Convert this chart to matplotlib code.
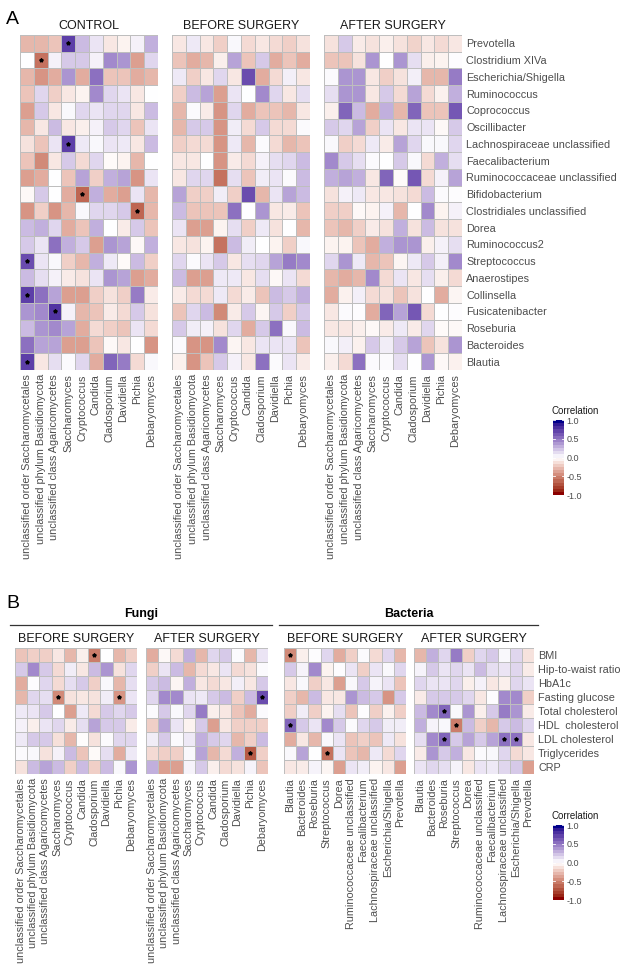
import numpy as np
import matplotlib
matplotlib.use("Agg")
import matplotlib.pyplot as plt
from matplotlib.colors import ListedColormap

plt.rcParams['font.family'] = ['Liberation Sans', 'DejaVu Sans']

# ---------------- data ----------------
bacteria_rows = ["Prevotella", "Clostridium XIVa", "Escherichia/Shigella", "Ruminococcus",
                 "Coprococcus", "Oscillibacter", "Lachnospiraceae unclassified",
                 "Faecalibacterium", "Ruminococcaceae unclassified", "Bifidobacterium",
                 "Clostridiales unclassified", "Dorea", "Ruminococcus2", "Streptococcus",
                 "Anaerostipes", "Collinsella", "Fusicatenibacter", "Roseburia",
                 "Bacteroides", "Blautia"]
fungi_cols = ["unclassified order Saccharomycetales", "unclassified phylum Basidiomycota",
              "unclassified class Agaricomycetes", "Saccharomyces", "Cryptococcus",
              "Candida", "Cladosporium", "Davidiella", "Pichia", "Debaryomyces"]
clinical_rows = ["BMI", "Hip-to-waist ratio", "HbA1c", "Fasting glucose", "Total cholesterol",
                 "HDL  cholesterol", "LDL cholesterol", "Triglycerides", "CRP"]
bacteria_cols = ["Blautia", "Bacteroides", "Roseburia", "Streptococcus", "Dorea",
                 "Ruminococcaceae unclassified", "Faecalibacterium",
                 "Lachnospiraceae unclassified", "Escherichia/Shigella", "Prevotella"]

control_vals = [
    [-0.3, -0.3, -0.25, 0.75, 0.25, 0.1, -0.1, -0.05, 0.05, 0.3],
    [0.0, -0.6, 0.05, 0.2, 0.2, 0.05, 0.45, 0.4, -0.4, 0.15],
    [-0.3, -0.45, -0.35, 0.4, -0.35, 0.55, -0.25, -0.25, -0.35, -0.3],
    [-0.25, 0.15, -0.2, -0.1, -0.05, 0.45, 0.15, 0.1, -0.1, 0.0],
    [-0.4, 0.2, -0.1, 0.03, 0.15, 0.1, 0.15, 0.15, -0.1, 0.25],
    [-0.3, -0.1, 0.25, -0.1, -0.07, 0.05, 0.2, 0.15, -0.25, 0.1],
    [-0.12, -0.25, 0.1, 0.75, 0.08, 0.03, 0.1, 0.08, -0.1, 0.25],
    [-0.25, -0.5, -0.1, 0.2, -0.15, 0.15, -0.02, -0.05, -0.3, 0.0],
    [-0.4, -0.35, 0.0, -0.25, 0.35, -0.2, 0.3, 0.35, -0.45, 0.1],
    [-0.03, 0.2, 0.0, -0.35, -0.65, 0.3, -0.35, -0.4, 0.1, -0.3],
    [-0.45, -0.2, -0.45, -0.3, 0.03, 0.15, 0.15, 0.2, -0.65, -0.3],
    [0.25, 0.3, 0.15, -0.35, -0.25, 0.3, 0.0, -0.08, 0.2, -0.25],
    [0.2, 0.1, 0.55, 0.3, 0.2, -0.4, 0.4, 0.35, -0.03, 0.3],
    [0.7, 0.1, 0.03, -0.2, -0.3, 0.3, 0.08, -0.02, 0.25, -0.2],
    [0.25, 0.12, 0.05, -0.08, -0.12, 0.1, 0.4, 0.35, -0.4, -0.35],
    [0.75, 0.55, 0.35, -0.4, -0.4, -0.2, -0.12, -0.2, 0.5, -0.08],
    [0.4, 0.45, 0.8, 0.05, -0.3, -0.25, -0.08, -0.15, 0.2, -0.12],
    [0.25, 0.4, 0.45, 0.35, -0.35, -0.15, -0.2, -0.25, 0.1, -0.15],
    [0.55, 0.35, 0.35, -0.4, -0.4, -0.25, -0.03, -0.1, 0.0, -0.45],
    [0.75, -0.1, 0.12, 0.02, 0.15, -0.35, 0.6, 0.5, -0.15, 0.03],
]
control_sig = [(0, 3), (1, 1), (6, 3), (9, 4), (10, 8), (13, 0), (15, 0), (16, 2), (19, 0)]

before_vals = [
    [-0.1, 0.08, -0.1, -0.2, 0.03, -0.15, -0.1, -0.15, -0.2, -0.12],
    [-0.25, -0.35, -0.3, -0.07, 0.35, -0.25, 0.2, -0.35, -0.25, -0.35],
    [0.08, -0.2, -0.1, 0.15, -0.1, 0.7, -0.35, -0.15, 0.06, -0.1],
    [-0.2, 0.25, 0.35, -0.4, 0.1, 0.0, 0.45, 0.15, -0.1, 0.12],
    [-0.3, 0.02, -0.08, -0.45, 0.15, -0.35, -0.25, -0.25, -0.3, -0.1],
    [-0.3, 0.2, 0.2, -0.45, 0.07, -0.15, 0.2, -0.15, -0.15, 0.02],
    [-0.2, -0.15, -0.15, -0.45, 0.08, -0.3, 0.02, -0.15, -0.3, -0.25],
    [-0.1, -0.1, 0.0, -0.45, -0.08, -0.15, 0.05, 0.12, 0.15, 0.25],
    [-0.1, 0.15, 0.15, -0.6, 0.12, -0.25, 0.07, 0.1, 0.02, 0.25],
    [0.35, -0.2, -0.2, 0.07, -0.2, 0.7, -0.3, 0.1, 0.35, 0.25],
    [0.25, -0.25, -0.25, -0.25, 0.55, 0.0, 0.4, -0.1, -0.08, -0.25],
    [0.1, -0.4, -0.4, -0.05, 0.12, -0.2, 0.08, -0.12, 0.0, -0.3],
    [-0.1, -0.12, -0.05, -0.6, 0.25, 0.07, 0.0, -0.05, -0.2, 0.03],
    [0.15, 0.02, 0.1, 0.2, -0.1, 0.12, 0.15, 0.35, 0.5, 0.45],
    [0.25, -0.4, -0.4, 0.08, 0.08, -0.1, 0.12, -0.03, 0.1, -0.15],
    [-0.08, -0.15, -0.15, 0.08, -0.15, -0.08, -0.25, 0.25, 0.2, 0.3],
    [-0.25, 0.15, 0.25, -0.5, -0.08, 0.2, -0.04, 0.2, -0.2, 0.2],
    [0.2, 0.07, 0.05, -0.12, 0.15, -0.35, 0.2, 0.55, 0.03, 0.25],
    [0.02, -0.45, -0.45, 0.45, -0.04, -0.1, 0.1, 0.1, 0.1, -0.25],
    [-0.06, -0.45, -0.25, 0.2, 0.05, -0.1, 0.55, 0.02, 0.1, -0.08],
]

after_vals = [
    [-0.12, 0.2, -0.08, -0.12, -0.07, -0.12, -0.18, -0.1, -0.15, -0.1],
    [-0.25, -0.25, -0.12, 0.4, 0.0, 0.4, 0.12, -0.07, -0.05, 0.01],
    [0.02, 0.4, 0.4, -0.1, -0.2, -0.12, 0.06, -0.3, -0.3, 0.5],
    [0.12, 0.4, 0.4, -0.1, 0.2, -0.15, 0.35, -0.15, -0.06, 0.3],
    [-0.07, 0.6, 0.25, -0.35, 0.3, -0.3, 0.6, -0.25, -0.25, 0.65],
    [0.2, 0.15, 0.35, -0.2, 0.1, -0.1, 0.1, 0.1, -0.03, 0.2],
    [0.03, -0.2, -0.15, 0.08, -0.08, 0.35, 0.15, 0.03, 0.03, 0.15],
    [0.45, 0.2, 0.12, 0.02, 0.0, 0.2, 0.03, -0.15, 0.3, 0.12],
    [0.3, 0.35, 0.3, -0.1, 0.6, -0.02, 0.65, -0.15, 0.05, 0.35],
    [-0.12, 0.05, 0.08, -0.1, -0.1, -0.12, -0.15, 0.25, 0.02, 0.01],
    [-0.2, -0.2, -0.03, -0.05, 0.05, -0.3, 0.0, 0.45, -0.05, 0.05],
    [-0.25, -0.3, -0.2, -0.08, -0.12, 0.3, -0.12, 0.25, -0.12, -0.12],
    [-0.05, -0.05, -0.25, -0.35, 0.3, 0.4, 0.4, -0.07, 0.05, 0.12],
    [0.15, 0.4, 0.08, -0.3, -0.25, -0.04, 0.08, 0.2, 0.06, 0.45],
    [-0.3, -0.35, -0.3, 0.45, -0.15, 0.1, -0.1, 0.12, -0.07, -0.15],
    [-0.35, -0.06, 0.06, -0.15, -0.12, -0.25, -0.12, 0.0, -0.35, -0.04],
    [-0.1, 0.02, 0.01, -0.35, 0.6, 0.35, 0.65, -0.15, 0.0, 0.01],
    [-0.1, -0.1, -0.07, -0.03, -0.08, 0.08, -0.08, 0.15, -0.02, -0.03],
    [0.03, 0.06, -0.06, 0.2, 0.07, 0.2, 0.35, -0.25, -0.12, 0.4],
    [-0.07, -0.15, 0.55, 0.02, 0.02, 0.12, 0.0, 0.4, -0.03, -0.06],
]

fungi_before_vals = [
    [-0.25, -0.2, -0.2, -0.1, -0.3, -0.07, -0.55, 0.0, -0.3, -0.2],
    [0.2, 0.45, 0.2, -0.15, 0.07, -0.1, 0.25, 0.4, -0.12, 0.15],
    [-0.35, 0.01, 0.15, -0.15, 0.12, 0.2, -0.2, 0.03, -0.3, 0.12],
    [-0.3, 0.15, 0.12, -0.5, -0.12, -0.1, -0.12, 0.07, -0.45, 0.1],
    [0.08, 0.1, 0.2, 0.0, -0.4, 0.08, -0.15, 0.2, 0.15, 0.2],
    [0.05, -0.07, 0.1, 0.15, -0.08, 0.12, 0.35, 0.2, 0.2, -0.08],
    [0.08, 0.2, 0.2, -0.13, -0.3, -0.01, -0.12, 0.02, 0.15, 0.15],
    [0.02, 0.03, -0.12, 0.05, 0.25, -0.25, -0.02, 0.12, -0.35, 0.08],
    [-0.12, 0.25, 0.35, 0.25, -0.2, 0.25, -0.2, 0.25, 0.03, 0.4],
]
fungi_before_sig = [(0, 6), (3, 3), (3, 8)]

fungi_after_vals = [
    [-0.35, -0.03, -0.15, 0.3, -0.3, 0.15, 0.2, 0.02, -0.3, 0.1],
    [-0.2, 0.1, 0.25, -0.3, -0.15, -0.1, 0.1, -0.15, -0.12, 0.02],
    [0.2, 0.25, -0.04, 0.3, -0.1, -0.15, -0.1, 0.06, -0.1, 0.2],
    [0.15, 0.45, 0.45, 0.1, 0.08, 0.2, 0.25, -0.2, 0.25, 0.7],
    [0.02, 0.2, 0.03, 0.15, 0.5, -0.07, -0.1, -0.25, -0.35, 0.02],
    [-0.2, 0.35, 0.1, -0.05, 0.2, -0.4, -0.1, -0.2, -0.2, -0.2],
    [0.07, 0.2, 0.02, 0.08, 0.3, 0.2, 0.15, -0.3, -0.2, 0.25],
    [-0.15, -0.2, -0.2, 0.03, 0.35, -0.3, -0.15, 0.3, -0.7, -0.2],
    [0.3, -0.4, -0.4, 0.04, 0.2, -0.07, -0.15, -0.12, 0.04, -0.25],
]
fungi_after_sig = [(3, 9), (7, 8)]

bact_before_vals = [
    [-0.5, -0.07, 0.01, 0.15, -0.35, -0.2, 0.02, -0.15, 0.15, -0.3],
    [0.2, 0.04, 0.45, -0.05, 0.01, 0.1, -0.2, 0.1, 0.03, 0.15],
    [-0.1, 0.03, -0.2, -0.1, -0.4, 0.03, 0.2, 0.04, 0.1, -0.25],
    [-0.2, -0.3, 0.25, -0.1, -0.1, 0.4, 0.25, 0.2, -0.45, 0.2],
    [-0.2, 0.07, -0.2, -0.05, 0.12, -0.25, 0.01, -0.2, -0.06, -0.2],
    [0.6, 0.2, 0.1, 0.45, 0.2, 0.02, 0.15, 0.2, 0.07, 0.07],
    [-0.35, -0.1, -0.3, 0.03, 0.1, -0.25, -0.2, -0.25, 0.08, -0.12],
    [0.03, 0.35, 0.0, -0.6, 0.1, -0.25, -0.3, 0.08, -0.15, 0.15],
    [-0.1, -0.08, 0.04, -0.04, -0.4, 0.1, 0.07, -0.05, -0.1, -0.4],
]
bact_before_sig = [(0, 0), (5, 0), (7, 3)]

bact_after_vals = [
    [-0.3, 0.3, 0.15, 0.5, -0.2, 0.15, 0.2, 0.03, 0.15, -0.12],
    [0.04, 0.2, 0.1, 0.15, 0.1, 0.25, 0.12, 0.1, 0.15, -0.08],
    [0.15, 0.1, 0.1, 0.15, -0.07, 0.05, -0.1, -0.07, 0.15, 0.1],
    [-0.08, 0.2, 0.2, 0.2, 0.15, -0.1, 0.01, 0.45, 0.45, -0.2],
    [0.25, 0.45, 0.6, 0.03, 0.4, -0.07, 0.2, 0.5, 0.4, -0.08],
    [0.3, 0.04, 0.03, -0.55, 0.25, -0.2, -0.3, 0.2, 0.25, 0.15],
    [0.12, 0.45, 0.6, 0.2, 0.35, 0.2, 0.35, 0.55, 0.55, -0.1],
    [-0.08, 0.4, 0.2, 0.3, -0.1, 0.02, 0.03, 0.15, -0.15, -0.1],
    [0.1, 0.15, 0.12, 0.04, -0.1, 0.1, 0.08, 0.15, 0.2, -0.4],
]
bact_after_sig = [(4, 2), (5, 3), (6, 2), (6, 7), (6, 8)]


# ---------------- colour scale (white mid, Lab interpolation like ggplot) ----------------
def srgb_to_lab(c):
    c = np.asarray(c, dtype=float)
    lin = np.where(c <= 0.04045, c / 12.92, ((c + 0.055) / 1.055) ** 2.4)
    m = np.array([[0.4124564, 0.3575761, 0.1804375],
                  [0.2126729, 0.7151522, 0.0721750],
                  [0.0193339, 0.1191920, 0.9503041]])
    xyz = lin @ m.T / np.array([0.95047, 1.0, 1.08883])
    d = 6 / 29
    f = np.where(xyz > d ** 3, np.cbrt(xyz), xyz / (3 * d * d) + 4 / 29)
    return np.stack([116 * f[..., 1] - 16, 500 * (f[..., 0] - f[..., 1]),
                     200 * (f[..., 1] - f[..., 2])], axis=-1)


def lab_to_srgb(lab):
    lab = np.asarray(lab, dtype=float)
    fy = (lab[..., 0] + 16) / 116
    fx = fy + lab[..., 1] / 500
    fz = fy - lab[..., 2] / 200
    d = 6 / 29
    f = np.stack([fx, fy, fz], axis=-1)
    xyz = np.where(f > d, f ** 3, 3 * d * d * (f - 4 / 29)) * np.array([0.95047, 1.0, 1.08883])
    minv = np.array([[3.2404542, -1.5371385, -0.4985314],
                     [-0.9692660, 1.8760108, 0.0415560],
                     [0.0556434, -0.2040259, 1.0572252]])
    lin = np.clip(xyz @ minv.T, 0, 1)
    c = np.where(lin <= 0.0031308, 12.92 * lin, 1.055 * lin ** (1 / 2.4) - 0.055)
    return np.clip(c, 0, 1)


def gradient2(low, mid, high, n=256):
    lo, md, hi = [srgb_to_lab(np.array(matplotlib.colors.to_rgb(c))) for c in (low, mid, high)]
    out = []
    for v in np.linspace(-1, 1, n):
        end = lo if v < 0 else hi
        out.append(lab_to_srgb(md + abs(v) * (end - md)))
    return ListedColormap(out)


cmap = gradient2("darkred", "white", "darkblue")
bar_cmap = gradient2("darkred", "white", "darkblue", n=24)

W, H = 633, 972
fig = plt.figure(figsize=(W / 100, H / 100), dpi=100)
label_color = "#4D4D4D"
lab_fs = 7.8


def px_axes(left, top, width, height):
    return fig.add_axes([left / W, 1 - (top + height) / H, width / W, height / H])


def px_text(x, y, s, **kw):
    fig.text(x / W, 1 - y / H, s, **kw)


def heatmap(rect, vals, sig, rows, cols, title, show_rows):
    ax = px_axes(*rect)
    data = np.array(vals)
    ax.pcolormesh(data, cmap=cmap, vmin=-1, vmax=1, edgecolors="#BEBEBE", linewidth=0.6)
    ax.set_xlim(0, data.shape[1])
    ax.set_ylim(data.shape[0], 0)
    for r, c in sig:
        ax.plot(c + 0.5, r + 0.5, marker="*", ms=2.8, color="black", ls="none")
    ax.set_xticks(np.arange(len(cols)) + 0.5)
    ax.set_xticklabels(cols, rotation=90, fontsize=lab_fs, color=label_color)
    ax.set_yticks(np.arange(len(rows)) + 0.5)
    if show_rows:
        ax.yaxis.tick_right()
        ax.set_yticklabels(rows, fontsize=lab_fs, color=label_color)
    else:
        ax.set_yticklabels([])
    ax.tick_params(length=0, pad=3)
    for s in ax.spines.values():
        s.set_visible(False)
    ax.set_title(title, fontsize=9, color="#1A1A1A", pad=4)
    return ax


def colorbar(left, top):
    cax = px_axes(left, top, 11, 75)
    grad = np.linspace(-1, 1, 24).reshape(-1, 1)
    cax.pcolormesh([0, 1], np.linspace(-1, 1, 25), grad, cmap=bar_cmap, vmin=-1, vmax=1)
    ticks = [-1.0, -0.5, 0.0, 0.5, 1.0]
    for t in ticks:
        cax.plot([0, 0.2], [t, t], color="white", lw=0.6)
        cax.plot([0.8, 1], [t, t], color="white", lw=0.6)
    cax.set_xlim(0, 1)
    cax.set_ylim(-1, 1)
    cax.set_xticks([])
    cax.yaxis.tick_right()
    cax.set_yticks(ticks)
    cax.set_yticklabels(["-1.0", "-0.5", "0.0", "0.5", "1.0"], fontsize=6.5, color=label_color)
    cax.tick_params(length=0, pad=2)
    for s in cax.spines.values():
        s.set_visible(False)
    px_text(left - 1, top - 4, "Correlation", fontsize=7, color="#1A1A1A", va="bottom")


# ---------------- panel A ----------------
px_text(6, 20, "A", fontsize=14, va="center")
heatmap((20, 35, 138, 335), control_vals, control_sig, bacteria_rows, fungi_cols, "CONTROL", False)
heatmap((172, 35, 138, 335), before_vals, [], bacteria_rows, fungi_cols, "BEFORE SURGERY", False)
heatmap((324, 35, 138, 335), after_vals, [], bacteria_rows, fungi_cols, "AFTER SURGERY", True)
colorbar(553, 420)

# ---------------- panel B ----------------
px_text(6, 603, "B", fontsize=14, va="center")
heatmap((15, 648, 122, 126), fungi_before_vals, fungi_before_sig, clinical_rows, fungi_cols,
        "BEFORE SURGERY", False)
heatmap((146, 648, 122, 126), fungi_after_vals, fungi_after_sig, clinical_rows, fungi_cols,
        "AFTER SURGERY", False)
heatmap((284, 648, 122, 126), bact_before_vals, bact_before_sig, clinical_rows, bacteria_cols,
        "BEFORE SURGERY", False)
heatmap((414, 648, 120, 126), bact_after_vals, bact_after_sig, clinical_rows, bacteria_cols,
        "AFTER SURGERY", True)

px_text(141, 614, "Fungi", fontsize=9, fontweight="bold", ha="center", va="center")
px_text(409, 614, "Bacteria", fontsize=9, fontweight="bold", ha="center", va="center")
fig.add_artist(plt.Line2D([10 / W, 272 / W], [1 - 625 / H, 1 - 625 / H], color="#333333", lw=0.9))
fig.add_artist(plt.Line2D([279 / W, 538 / W], [1 - 625 / H, 1 - 625 / H], color="#333333", lw=0.9))

colorbar(553, 825)

fig.savefig("out.png", dpi=100, facecolor="white")
